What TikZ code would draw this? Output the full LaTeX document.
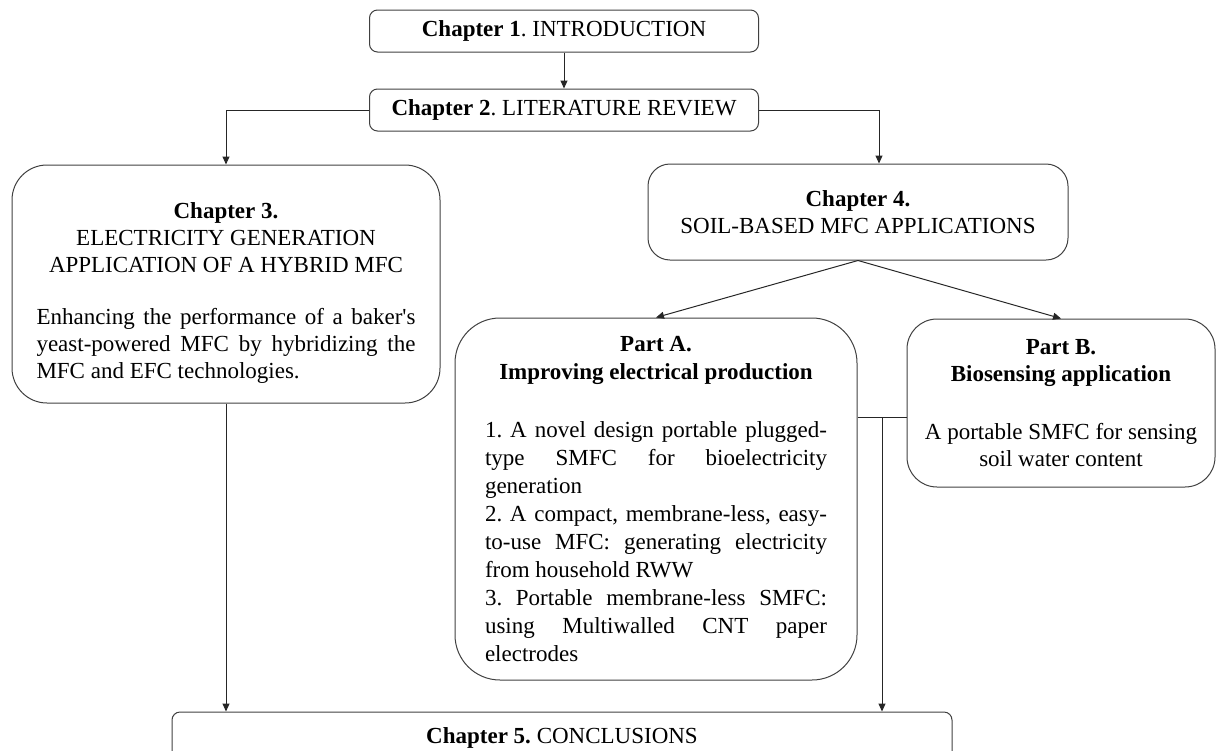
\documentclass[tikz,border=0pt]{standalone}
\usepackage{fontspec}
\setmainfont{Liberation Serif}
\usepackage{tikz}
\usetikzlibrary{positioning, arrows.meta, calc}
\setlength{\parindent}{0pt}
\frenchspacing

\begin{document}
\begin{tikzpicture}[x=1pt, y=-1pt, >={Triangle[length=8pt,width=7pt]},
    every node/.style={draw=black!75, line width=1pt, inner sep=0pt, font=\fontsize{23}{27}\selectfont},
    chbox/.style={rounded corners=8pt, minimum height=42pt},
    link/.style={->, line width=1pt, black!85}]
    \useasboundingbox (0,0) rectangle (1218,750);
    \clip (0,0) rectangle (1218,750);

    \node[chbox, minimum width=389pt] (ch1) at (564,31) {\textbf{Chapter 1}. INTRODUCTION};
    \node[chbox, minimum width=389pt] (ch2) at (564,110) {\textbf{Chapter 2}. LITERATURE REVIEW};

    \node[rounded corners=35pt, minimum width=428pt, minimum height=238pt, text width=379pt, align=justify] (ch3) at (226,284) {%
        \vskip 6pt
        \centerline{\textbf{Chapter 3.}}
        \centerline{ELECTRICITY GENERATION}
        \centerline{APPLICATION OF A HYBRID MFC}
        \vskip 25pt
        Enhancing the performance of a baker\textquotesingle s\linebreak
        yeast-powered MFC by hybridizing the\linebreak
        MFC and EFC technologies.};

    \node[rounded corners=22pt, minimum width=420pt, minimum height=96pt, align=center] (ch4) at (858,212) {%
        \textbf{Chapter 4.}\\ SOIL-BASED MFC APPLICATIONS};

    % the two parts of chapter 4
    \node[rounded corners=45pt, minimum width=402pt, minimum height=362pt, text width=342pt, align=justify,
          font=\fontsize{23}{28}\selectfont] (partA) at (656,499) {%
        \centerline{\textbf{Part A.}}
        \centerline{\textbf{Improving electrical production}}
        \vskip 30pt
        1. A novel design portable plugged-\linebreak
        type SMFC for bioelectricity\linebreak
        generation\par
        2. A compact, membrane-less, easy-\linebreak
        to-use MFC: generating electricity\linebreak
        from household RWW\par
        3. Portable membrane-less SMFC:\linebreak
        using Multiwalled CNT paper\linebreak
        electrodes};

    \node[rounded corners=30pt, minimum width=308pt, minimum height=168pt, align=center] (partB) at (1061,403) {%
        \textbf{Part B.}\\ \textbf{Biosensing application}\\[31pt]
        A portable SMFC for sensing\\ soil water content};

    \node[chbox, minimum width=780pt, minimum height=52pt] (ch5) at (562,738) {\textbf{Chapter 5.} CONCLUSIONS};

    \coordinate (j) at (882,417);

    \draw[link] (ch1) -- (ch2);
    \draw[link] (ch2.west) -| (ch3.north);
    \draw[link] (ch2.east) -| ([xshift=21pt]ch4.north);
    \draw[link] (ch4.south) -- (partA.north);
    \draw[link] (ch4.south) -- (partB.north);
    \draw[line width=1pt, black!85] (partA.east |- j) -- (partB.west |- j);
    \draw[link] (j) -- (j |- ch5.north);
    \draw[link] (ch3.south) -- (ch3.south |- ch5.north);
\end{tikzpicture}
\end{document}
